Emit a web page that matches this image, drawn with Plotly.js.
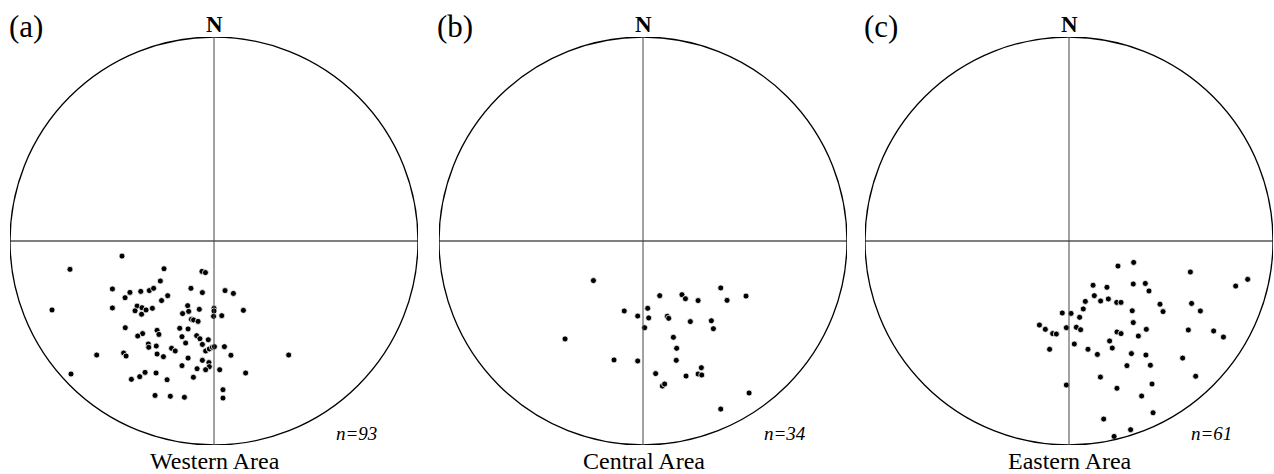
<!DOCTYPE html>
<html>
<head>
<meta charset="utf-8">
<script src="https://cdn.plot.ly/plotly-3.0.1.min.js"></script>
<style>html,body{margin:0;padding:0;background:#fff;}#chart{width:1274px;height:474px;}</style>
</head>
<body>
<div id="chart"></div>
<script>
// Projected pole positions (east, north) in units of the net radius
const westE = [-0.451,-0.706,-0.245,-0.059,-0.042,-0.263,-0.498,-0.412,-0.359,-0.317,-0.296,-0.436,-0.227,-0.257,-0.113,-0.057,0.054,0.095,-0.794,-0.498,-0.377,-0.387,-0.353,-0.355,-0.333,-0.302,-0.129,-0.154,-0.124,-0.072,0.000,0.000,-0.002,0.038,0.144,-0.111,-0.100,-0.078,-0.435,-0.279,-0.270,-0.350,-0.374,-0.168,-0.127,-0.157,-0.085,-0.069,-0.028,-0.139,-0.057,-0.322,-0.320,-0.283,-0.208,-0.190,-0.041,-0.023,-0.008,0.002,0.051,-0.575,-0.443,-0.431,-0.279,-0.248,-0.127,0.083,0.366,-0.057,-0.025,-0.023,-0.157,-0.083,-0.041,0.028,-0.701,-0.338,-0.284,-0.364,-0.405,-0.230,-0.101,0.155,0.044,0.044,-0.289,-0.214,-0.145];
const westN = [-0.074,-0.139,-0.136,-0.149,-0.155,-0.196,-0.235,-0.252,-0.247,-0.243,-0.232,-0.278,-0.268,-0.292,-0.232,-0.253,-0.243,-0.257,-0.338,-0.328,-0.319,-0.342,-0.327,-0.359,-0.338,-0.330,-0.317,-0.356,-0.345,-0.335,-0.330,-0.343,-0.369,-0.366,-0.340,-0.384,-0.387,-0.394,-0.425,-0.438,-0.458,-0.454,-0.466,-0.428,-0.431,-0.469,-0.464,-0.479,-0.484,-0.500,-0.507,-0.505,-0.521,-0.515,-0.526,-0.539,-0.539,-0.529,-0.521,-0.518,-0.518,-0.559,-0.549,-0.564,-0.554,-0.567,-0.574,-0.560,-0.559,-0.585,-0.596,-0.616,-0.611,-0.626,-0.631,-0.631,-0.652,-0.644,-0.647,-0.665,-0.678,-0.680,-0.668,-0.647,-0.729,-0.770,-0.757,-0.761,-0.766];

const centralE = [-0.243,0.082,0.191,0.208,0.270,0.381,0.412,0.505,-0.092,-0.026,0.023,0.028,0.119,0.126,0.232,0.335,0.345,0.008,-0.382,0.149,0.165,-0.142,-0.026,0.163,0.286,0.270,0.288,0.062,0.211,0.095,0.106,0.520,0.381];
const centralN = [-0.194,-0.268,-0.263,-0.283,-0.292,-0.230,-0.291,-0.270,-0.343,-0.368,-0.330,-0.377,-0.369,-0.379,-0.395,-0.391,-0.430,-0.425,-0.480,-0.472,-0.526,-0.583,-0.588,-0.585,-0.621,-0.652,-0.657,-0.650,-0.662,-0.711,-0.701,-0.745,-0.824];

const easternE = [0.240,0.317,0.595,0.876,0.817,0.118,0.186,0.315,0.374,0.392,0.124,0.155,0.193,0.080,0.234,0.255,0.446,0.601,0.461,0.644,0.310,0.070,-0.033,0.010,0.052,0.315,-0.145,-0.116,-0.080,-0.062,-0.013,0.036,0.057,0.235,0.255,0.379,0.340,0.585,0.709,0.757,0.199,0.026,0.212,-0.095,0.093,0.139,0.306,0.377,0.557,0.284,0.399,0.154,0.621,-0.013,0.407,0.235,0.356,0.412,0.170,0.302,0.221];
const easternN = [-0.123,-0.105,-0.152,-0.188,-0.221,-0.217,-0.227,-0.211,-0.208,-0.245,-0.268,-0.294,-0.284,-0.296,-0.301,-0.301,-0.310,-0.306,-0.346,-0.343,-0.342,-0.333,-0.353,-0.355,-0.374,-0.400,-0.412,-0.433,-0.454,-0.456,-0.425,-0.423,-0.435,-0.446,-0.454,-0.433,-0.466,-0.436,-0.441,-0.471,-0.490,-0.505,-0.525,-0.531,-0.531,-0.556,-0.552,-0.559,-0.574,-0.611,-0.609,-0.667,-0.663,-0.706,-0.701,-0.722,-0.760,-0.842,-0.873,-0.925,-0.958];

const panelLabels = ['(a)','(b)','(c)'];
const areaNames = ['Western Area','Central Area','Eastern Area'];
const countLabels = ['n=93','n=34','n=61'];
const seriesE = [westE, centralE, easternE];
const seriesN = [westN, centralN, easternN];

const W = 1274, H = 474, R = 204;
const centersX = [214, 643, 1069];
const centerY = 241;
const font = '"Liberation Serif", "Times New Roman", serif';

const data = [];
const layout = {
  width: W, height: H,
  margin: {l:0, r:0, t:0, b:0},
  paper_bgcolor: '#fff', plot_bgcolor: 'rgba(0,0,0,0)',
  showlegend: false,
  shapes: [], annotations: []
};

const px = v => v / W;
const py = v => (H - v) / H;

function note(x, y, text, size, xanchor) {
  return {xref: 'paper', yref: 'paper', x: px(x), y: py(y), xanchor: xanchor || 'center', yanchor: 'middle',
          text: text, showarrow: false, borderpad: 0, font: {family: font, size: size, color: '#000'}};
}

for (let i = 0; i < 3; i++) {
  const s = i === 0 ? '' : String(i + 1);
  const xa = 'xaxis' + s, ya = 'yaxis' + s;
  const xr = 'x' + s, yr = 'y' + s;
  const cx = centersX[i];
  layout[xa] = {domain: [px(cx - R), px(cx + R)], range: [-1, 1], visible: false, fixedrange: true};
  layout[ya] = {domain: [py(centerY + R), py(centerY - R)], range: [-1, 1], visible: false, fixedrange: true};

  layout.shapes.push({type: 'circle', xref: xr, yref: yr, x0: -1, x1: 1, y0: -1, y1: 1, line: {color: '#000', width: 1.3}});
  layout.shapes.push({type: 'line', xref: xr, yref: yr, x0: -1, x1: 1, y0: 0, y1: 0, line: {color: '#000', width: 1.2}});
  layout.shapes.push({type: 'line', xref: xr, yref: yr, x0: 0, x1: 0, y0: -1, y1: 1, line: {color: '#444', width: 1}});

  data.push({
    type: 'scatter', mode: 'markers', xaxis: xr, yaxis: yr,
    x: seriesE[i], y: seriesN[i],
    marker: {color: '#000', size: 6, line: {color: '#fff', width: 0.8}},
    cliponaxis: false, hoverinfo: 'skip'
  });

  layout.annotations.push(note(cx, 24, '<b>N</b>', 23));
  layout.annotations.push(note(cx - 188, 27, panelLabels[i], 31));
  layout.annotations.push(note(cx + 1, 461, areaNames[i], 24));
  layout.annotations.push(note(cx + 164, 433, '<i>' + countLabels[i] + '</i>', 19, 'right'));
}

Plotly.newPlot('chart', data, layout, {staticPlot: true, displayModeBar: false});
</script>
</body>
</html>
